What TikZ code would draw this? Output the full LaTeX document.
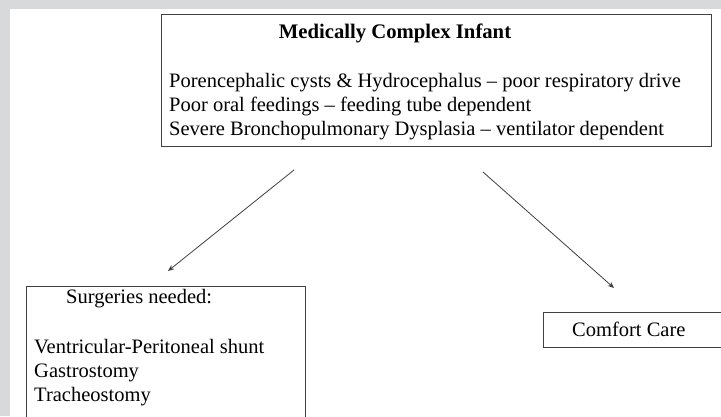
\documentclass[tikz,border=0pt]{standalone}
\usepackage{fontspec}
\setmainfont{Liberation Serif}
\usetikzlibrary{arrows.meta}
\tikzset{>={Stealth[length=2.2mm,width=1.8mm]}}
\definecolor{PageGray}{HTML}{D8D9DB}
\colorlet{BoxLine}{black!75}
\tikzset{
  CareBox/.style={draw=BoxLine, line width=1.3pt, anchor=north west, inner sep=0pt},
  CareText/.style={anchor=base west, inner sep=0pt, font=\fontsize{20.5}{24}\selectfont},
  CareArrow/.style={->, draw=black!75, line width=0.8pt}
}

\begin{document}
\begin{tikzpicture}[x=1pt, y=-1pt]
    \path[use as bounding box] (0,0) rectangle (721,416);
    \clip (0,0) rectangle (721,416);
    \fill[PageGray] (0,0) rectangle (721,416);
    \fill[white] (10,9) rectangle (721,416);

    % boxes
    \node[CareBox, minimum width=550pt, minimum height=132pt] (infant) at (161,14) {};
    \node[CareBox, minimum width=279pt, minimum height=150pt] (surgery) at (26,286) {};
    \node[CareBox, minimum width=200pt, minimum height=35pt] (comfort) at (543,312) {};

    % texts
    \node[CareText, anchor=base, font=\fontsize{20.7}{24}\selectfont\bfseries] (title) at (395,38) {Medically Complex Infant};
    \node[CareText] (cysts) at (169,87) {Porencephalic cysts \& Hydrocephalus -- poor respiratory drive};
    \node[CareText] (feeds) at (169,111) {Poor oral feedings -- feeding tube dependent};
    \node[CareText] (lungs) at (169,135) {Severe Bronchopulmonary Dysplasia -- ventilator dependent};

    \node[CareText] (needed) at (66,303) {Surgeries needed:};
    \node[CareText] (shunt) at (34,353) {Ventricular-Peritoneal shunt};
    \node[CareText] (gastro) at (34,377) {Gastrostomy};
    \node[CareText] (trach) at (34,401) {Tracheostomy};

    \node[CareText] (care) at (572,336) {Comfort Care};

    % arrows
    \coordinate (leftfrom) at (294,170);
    \coordinate (leftto) at (168,271);
    \coordinate (rightfrom) at (483,172);
    \coordinate (rightto) at (614,288);
    \draw[CareArrow] (leftfrom) -- (leftto);
    \draw[CareArrow] (rightfrom) -- (rightto);
\end{tikzpicture}
\end{document}
